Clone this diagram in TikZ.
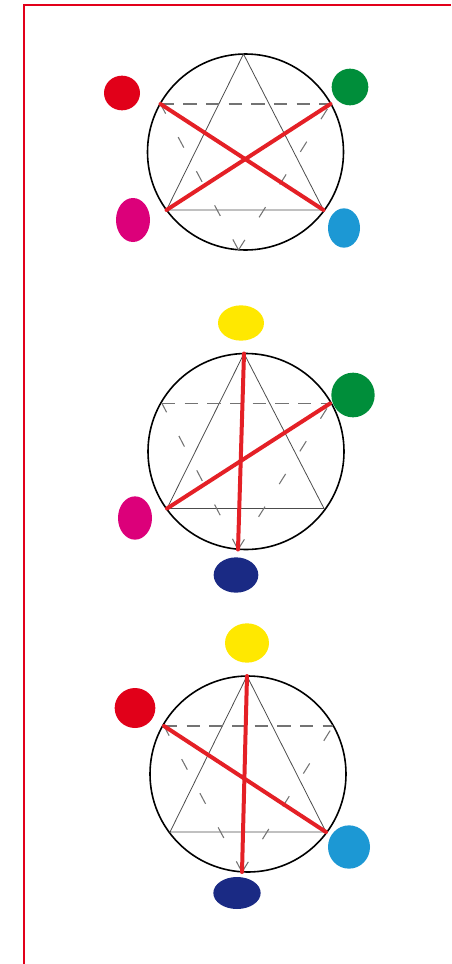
\documentclass[tikz,border=0pt]{standalone}
\usetikzlibrary{positioning,shapes.geometric}
\definecolor{framered}{RGB}{226,0,26}
\definecolor{chordred}{RGB}{228,32,38}
\definecolor{pred}{RGB}{225,0,25}
\definecolor{pgreen}{RGB}{0,142,58}
\definecolor{pmagenta}{RGB}{220,0,122}
\definecolor{pcyan}{RGB}{28,152,212}
\definecolor{pyellow}{RGB}{255,232,0}
\definecolor{pnavy}{RGB}{26,42,132}
\tikzset{
  wheel/.style={draw=black, line width=1.2pt},
  solidtri/.style={draw=black!70, line width=0.6pt},
  dashtop/.style={draw=black!55, line width=0.8pt, dash pattern=on 10pt off 7pt},
  dashside/.style={draw=black!55, line width=0.8pt, dash pattern=on 9pt off 20pt},
  chord/.style={draw=chordred, line width=3pt, line cap=round},
  blob/.style={ellipse, inner sep=0pt, draw=none}
}

\begin{document}
\begin{tikzpicture}[x=0.75pt, y=-0.75pt]
  \useasboundingbox (0,0) rectangle (451,964);
  \draw[framered, line width=2pt] (24,964) -- (24,5) -- (451,5);

  % first wheel: red, green, magenta, cyan
  \begin{scope}[shift={(245.5,152)}]
    \coordinate (a-c) at (0,0);
    \coordinate (a-top) at (-2,-98);
    \coordinate (a-bot) at (-7,98);
    \coordinate (a-ul) at (-85,-48);
    \coordinate (a-ur) at (85,-48);
    \coordinate (a-ll) at (-79,58);
    \coordinate (a-lr) at (78,58);
    \draw[wheel] (a-c) circle[radius=98];
    \draw[solidtri] (a-top) -- (a-ll) -- (a-lr) -- cycle;
    \draw[dashtop] (a-ul) -- (a-ur);
    \draw[dashside] (a-bot) -- (a-ul);
    \draw[dashside] (a-bot) -- (a-ur);
    \draw[chord] (a-ul) -- (a-lr);
    \draw[chord] (a-ll) -- (a-ur);
    \node[blob, fill=pred, minimum width=27pt, minimum height=26pt] (a-red) at (-123.5,-59) {};
    \node[blob, fill=pgreen, minimum width=27.5pt, minimum height=27.5pt] (a-green) at (104.5,-65) {};
    \node[blob, fill=pmagenta, minimum width=25.5pt, minimum height=33pt] (a-magenta) at (-112.5,68) {};
    \node[blob, fill=pcyan, minimum width=24pt, minimum height=29.5pt] (a-cyan) at (98.5,76) {};
  \end{scope}

  % second wheel: yellow, green, magenta, navy
  \begin{scope}[shift={(246,451.5)}]
    \coordinate (b-c) at (0,0);
    \coordinate (b-top) at (-2,-98);
    \coordinate (b-bot) at (-8,98);
    \coordinate (b-ul) at (-84,-48);
    \coordinate (b-ur) at (84,-48);
    \coordinate (b-ll) at (-79,57);
    \coordinate (b-lr) at (78,57);
    \draw[wheel] (b-c) circle[radius=98];
    \draw[solidtri] (b-top) -- (b-ll) -- (b-lr) -- cycle;
    \draw[dashtop] (b-ul) -- (b-ur);
    \draw[dashside] (b-bot) -- (b-ul);
    \draw[dashside] (b-bot) -- (b-ur);
    \draw[chord] (b-top) -- (b-bot);
    \draw[chord] (b-ll) -- (b-ur);
    \node[blob, fill=pyellow, minimum width=34.5pt, minimum height=26.5pt] (b-yellow) at (-5,-128.5) {};
    \node[blob, fill=pgreen, minimum width=32.5pt, minimum height=33.5pt] (b-green) at (107,-56.5) {};
    \node[blob, fill=pmagenta, minimum width=25.5pt, minimum height=32.5pt] (b-magenta) at (-111,66.5) {};
    \node[blob, fill=pnavy, minimum width=33.5pt, minimum height=26.5pt] (b-navy) at (-10,123.5) {};
  \end{scope}

  % third wheel: yellow, red, cyan, navy
  \begin{scope}[shift={(248,774)}]
    \coordinate (c-c) at (0,0);
    \coordinate (c-top) at (-1,-98);
    \coordinate (c-bot) at (-6,98);
    \coordinate (c-ul) at (-84,-48);
    \coordinate (c-ur) at (85,-48);
    \coordinate (c-ll) at (-78,58);
    \coordinate (c-lr) at (78,58);
    \draw[wheel] (c-c) circle[radius=98];
    \draw[solidtri] (c-top) -- (c-ll) -- (c-lr) -- cycle;
    \draw[dashtop] (c-ul) -- (c-ur);
    \draw[dashside] (c-bot) -- (c-ul);
    \draw[dashside] (c-bot) -- (c-ur);
    \draw[chord] (c-top) -- (c-bot);
    \draw[chord] (c-ul) -- (c-lr);
    \node[blob, fill=pyellow, minimum width=33pt, minimum height=29.5pt] (c-yellow) at (-1,-131) {};
    \node[blob, fill=pred, minimum width=30.5pt, minimum height=30pt] (c-red) at (-113,-66) {};
    \node[blob, fill=pcyan, minimum width=31.5pt, minimum height=32.5pt] (c-cyan) at (101,73) {};
    \node[blob, fill=pnavy, minimum width=35.5pt, minimum height=24pt] (c-navy) at (-11,119) {};
  \end{scope}
\end{tikzpicture}
\end{document}
